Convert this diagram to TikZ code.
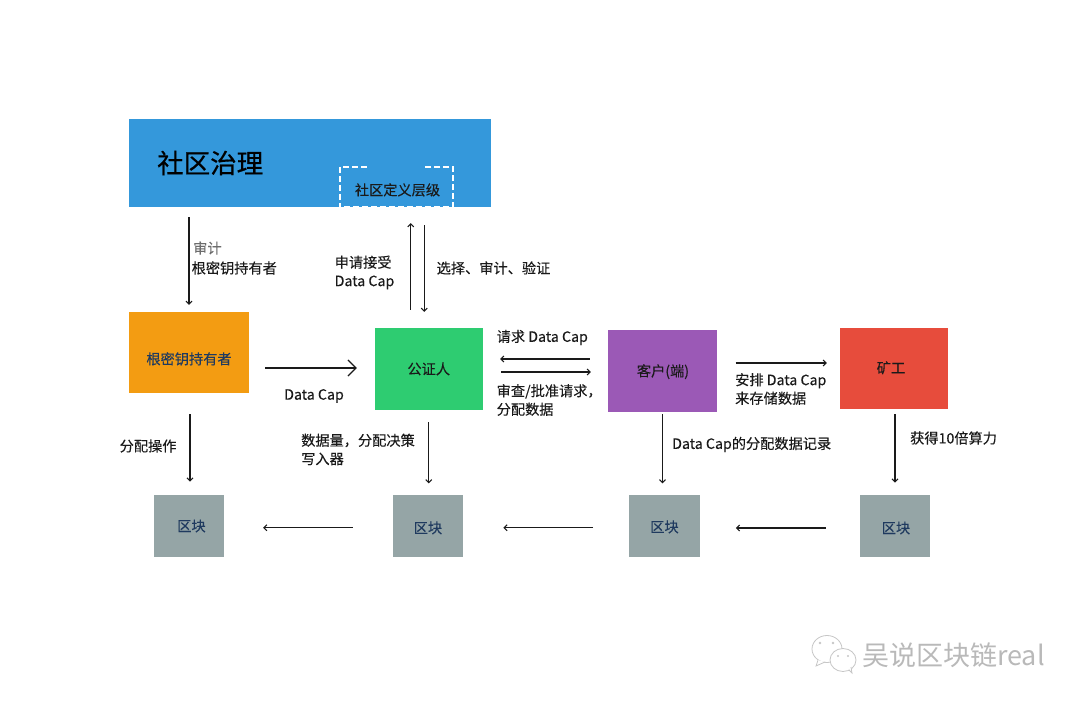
\documentclass[tikz,border=0pt]{standalone}
\usepackage{fontspec}
\setmainfont[FakeBold=0.2]{Noto Sans CJK SC}
\newfontfamily\titlefont[FakeBold=0.6]{Noto Sans CJK SC}
\newfontfamily\markfont{Noto Sans CJK SC}
\usetikzlibrary{arrows.meta}
\definecolor{cblue}{HTML}{3498DB}
\definecolor{corange}{HTML}{F39C12}
\definecolor{cgreen}{HTML}{2ECC71}
\definecolor{cpurple}{HTML}{9B59B6}
\definecolor{cred}{HTML}{E74C3C}
\definecolor{cgrey}{HTML}{95A5A6}
\definecolor{cnavy}{HTML}{1F3A5F}
\definecolor{cink}{HTML}{1A1A1A}
\newcommand{\dn}[2]{\raisebox{-#1pt}[10pt][2pt]{#2}}
\tikzset{
  box/.style={inner sep=0pt,font=\fontsize{14.2}{16}\selectfont,text=cink},
  chain/.style={box,fill=cgrey,text=cnavy,minimum width=70.5pt,minimum height=62.5pt},
  lab/.style={anchor=west,inner sep=0pt,align=left,text=cink,font=\fontsize{14.2}{18.5}\selectfont},
  arr/.style={draw=cink,line width=1.4pt,-{Straight Barb[length=3pt,width=6pt,line width=1pt]}},
  bigarr/.style={draw=cink,line width=1.4pt,-{Straight Barb[length=8pt,width=16pt,line width=1.2pt]}},
  wm/.style={draw=gray!45,line width=0.8pt,fill=white}
}
\begin{document}
\begin{tikzpicture}[x=1pt,y=-1pt]
\useasboundingbox (0,0) rectangle (1080,704);
% boxes
\node[box,fill=cblue,minimum width=362pt,minimum height=88pt] (gov) at (310,163) {};
\node[box,minimum width=113pt,minimum height=40pt,text=cink] (tier) at (396.5,187) {\dn{4.3}{\hspace{2pt}社区定义层级}};
\node[box,fill=corange,text=cnavy,minimum width=120pt,minimum height=81pt] (root) at (189,352.5) {\dn{7.8}{根密钥持有者}};
\node[box,fill=cgreen,minimum width=108.5pt,minimum height=82pt] (notary) at (428.75,369) {\dn{1.3}{公证人}};
\node[box,fill=cpurple,minimum width=109pt,minimum height=82.5pt] (client) at (662.5,371) {\dn{1.3}{\hspace{1pt}客户(端)}};
\node[box,fill=cred,minimum width=108pt,minimum height=81.5pt] (miner) at (894,368.25) {\dn{1}{矿工\hspace{6pt}}};
\node[chain] (b1) at (189,526) {\dn{1.3}{\hspace{5pt}区块}};
\node[chain] (b2) at (428,525.75) {\dn{3.5}{区块}};
\node[chain] (b3) at (664.5,525.75) {\dn{2.5}{区块}};
\node[chain] (b4) at (895,526) {\dn{3.3}{\hspace{2pt}区块}};
% dashed frame, open along the top
\draw[white,line width=1.6pt,dash pattern=on 6pt off 3pt]
  ([xshift=27pt]tier.north west) -- (tier.north west) -- (tier.south west)
  -- (tier.south east) -- (tier.north east) -- ([xshift=-30pt]tier.north east);
% title
\node[lab,font=\fontsize{26.5}{30}\selectfont\titlefont,text=black] (title) at (157,163) {社区治理};
% connectors
\draw[arr,shorten <=10pt,shorten >=7pt] (root.north |- gov.south) -- (root.north);
\draw[arr,shorten <=18pt,shorten >=16pt] ([xshift=-18pt]notary.north) -- ([xshift=-18pt]notary.north |- tier.south);
\draw[arr,shorten <=18pt,shorten >=16pt] ([xshift=-4.5pt]notary.north |- tier.south) -- ([xshift=-4.5pt]notary.north);
\draw[bigarr,shorten <=16pt,shorten >=17.5pt] ([yshift=1pt]root.east |- notary.west) -- ([yshift=1pt]notary.west);
\draw[arr,shorten <=18pt,shorten >=17pt] ([yshift=12pt]client.west) -- ([yshift=12pt]notary.east |- client.west);
\draw[arr,shorten <=18pt,shorten >=17pt] ([yshift=-1pt]notary.east |- client.west) -- ([yshift=-1pt]client.west);
\draw[arr,shorten <=18.5pt,shorten >=13pt] ([yshift=8pt]client.east) -- ([yshift=8pt]miner.west |- client.east);
\draw[arr,shorten <=21pt,shorten >=13pt] ([xshift=1pt]root.south) -- ([xshift=1pt]root.south |- b1.north);
\draw[arr,shorten <=12pt,shorten >=11pt] (notary.south) -- (notary.south |- b2.north);
\draw[arr,shorten <=2pt,shorten >=11pt] (client.south) -- (client.south |- b3.north);
\draw[arr,shorten <=5pt,shorten >=12pt] ([xshift=1pt]miner.south) -- ([xshift=1pt]miner.south |- b4.north);
\draw[arr,shorten <=39.75pt,shorten >=38.75pt] ([yshift=-2pt]b2.west) -- ([yshift=-2pt]b1.east |- b2.west);
\draw[arr,shorten <=36pt,shorten >=40pt] ([yshift=-2pt]b3.west) -- ([yshift=-2pt]b2.east);
\draw[arr,shorten <=33.75pt,shorten >=36pt] ([yshift=-2pt]b4.west) -- ([yshift=-2pt]b3.east |- b4.west);
% labels
\node[lab,text=gray!85!black] (l1) at (193,248) {审计};
\node[lab] (l2) at (191.5,268) {根密钥持有者};
\node[lab] (l3) at (334.5,272.5) {申请接受\\Data Cap};
\node[lab] (l4) at (436.5,268) {选择、审计、验证};
\node[lab] (l5) at (284,396) {Data Cap};
\node[lab] (l6) at (496.5,337.5) {请求 Data Cap};
\node[lab] (l7) at (496.5,400) {审查/批准请求，\\分配数据};
\node[lab] (l8) at (735,389) {安排 Data Cap\\来存储数据};
\node[lab] (l9) at (672,444.5) {Data Cap的分配数据记录};
\node[lab] (l10) at (910,438) {获得10倍算力};
\node[lab] (l11) at (119.5,446) {分配操作};
\node[lab] (l12) at (301,449.5) {数据量，分配决策\\写入器};
% watermark
\draw[wm] (827,649) ellipse (15pt and 13.5pt);
\draw[wm] (818,660) -- (816,666) -- (825,662);
\draw[wm] (843,660) ellipse (13pt and 11.5pt);
\draw[wm] (849,670) -- (852,673) -- (851,667);
\fill[gray!45] (820,643) circle (1.3pt) (833,643) circle (1.3pt) (838,656) circle (1.1pt) (848,656) circle (1.1pt);
\node[lab,text=gray!55,font=\fontsize{27}{30}\selectfont\markfont] (mark) at (862,655) {吴说区块链real};
\end{tikzpicture}
\end{document}
